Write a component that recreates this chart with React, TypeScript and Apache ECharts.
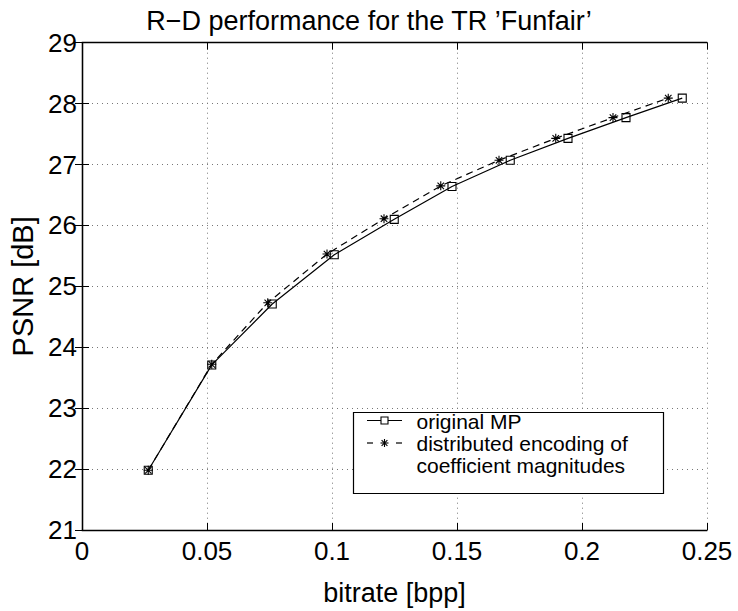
import React, { useEffect, useRef } from "react";
import * as echarts from "echarts";

const titleText = "R−D performance for the TR ’Funfair’";
const xName = "bitrate [bpp]";
const yName = "PSNR [dB]";
const seriesNames = ["original MP", "distributed encoding of", "coefficient magnitudes"];

const mpX = [0.0265, 0.0519, 0.0761, 0.1009, 0.1249, 0.148, 0.1713, 0.1944, 0.2176, 0.2401];
const mpY = [21.98, 23.71, 24.71, 25.52, 26.1, 26.64, 27.07, 27.43, 27.77, 28.09];
const distX = [0.0265, 0.0519, 0.0743, 0.098, 0.1208, 0.1435, 0.1668, 0.1895, 0.2124, 0.2345];
const distY = [21.98, 23.72, 24.73, 25.53, 26.11, 26.65, 27.07, 27.43, 27.77, 28.09];

const xMin = 0;
const xMax = 0.25;
const xStep = 0.05;
const yMin = 21;
const yMax = 29;
const yStep = 1;

const FONT = "Liberation Sans, Arial, Helvetica, sans-serif";
const STAR = "path://M0,-1L0,1M-1,0L1,0M-0.72,-0.72L0.72,0.72M-0.72,0.72L0.72,-0.72";

export default function App() {
  const ref = useRef<HTMLDivElement>(null);
  useEffect(() => {
    if (!ref.current) return;
    const chart = echarts.init(ref.current, null, { renderer: "svg" });
    const gridLine = { show: true, lineStyle: { color: "#777", width: 1, type: [1, 4] } };
    const axisLine = { show: true, lineStyle: { color: "#000", width: 1.3 } };
    const tick = { show: true, inside: true, length: 7, lineStyle: { color: "#000", width: 1 } };
    const lx = 367, rx = 402, cx = 384.5;
    const y1 = 420.5, y2 = 443, y3 = 465;
    const r = 4;
    chart.setOption({
      animation: false,
      backgroundColor: "#fff",
      title: {
        text: titleText,
        left: "center",
        top: 2,
        textStyle: { fontFamily: FONT, fontSize: 27, fontWeight: "normal", color: "#000" },
      },
      grid: { left: 82, right: 31, top: 42.7, bottom: 75.3, containLabel: false },
      xAxis: [
        {
          type: "value",
          min: xMin,
          max: xMax,
          interval: xStep,
          name: xName,
          nameLocation: "middle",
          nameGap: 49,
          nameTextStyle: { fontFamily: FONT, fontSize: 27, color: "#000" },
          axisLine,
          axisTick: tick,
          axisLabel: { margin: 8, fontFamily: FONT, fontSize: 26, color: "#000" },
          splitLine: gridLine,
        },
        {
          type: "value",
          position: "top",
          min: xMin,
          max: xMax,
          interval: xStep,
          axisLine,
          axisTick: tick,
          axisLabel: { show: false },
          splitLine: { show: false },
        },
      ],
      yAxis: [
        {
          type: "value",
          min: yMin,
          max: yMax,
          interval: yStep,
          name: yName,
          nameLocation: "middle",
          nameGap: 40,
          nameTextStyle: { fontFamily: FONT, fontSize: 29, color: "#000" },
          axisLine,
          axisTick: tick,
          axisLabel: { margin: 5, fontFamily: FONT, fontSize: 26, color: "#000" },
          splitLine: gridLine,
        },
        {
          type: "value",
          position: "right",
          min: yMin,
          max: yMax,
          interval: yStep,
          axisLine,
          axisTick: tick,
          axisLabel: { show: false },
          splitLine: { show: false },
        },
      ],
      series: [
        {
          name: seriesNames[0],
          type: "line",
          data: mpX.map((x, i) => [x, mpY[i]]),
          symbol: "rect",
          symbolSize: 8,
          lineStyle: { color: "#000", width: 1.2, type: "solid" },
          itemStyle: { color: "rgba(255,255,255,0)", borderColor: "#000", borderWidth: 1.1 },
          z: 3,
        },
        {
          name: seriesNames[1] + " " + seriesNames[2],
          type: "line",
          data: distX.map((x, i) => [x, distY[i]]),
          symbol: STAR,
          symbolSize: 9,
          lineStyle: { color: "#000", width: 1.2, type: [7, 5] },
          itemStyle: { color: "#000", borderColor: "#000", borderWidth: 1.1 },
          z: 4,
        },
      ],
      graphic: [
        {
          type: "rect",
          shape: { x: 353.5, y: 412.5, width: 310, height: 81 },
          style: { fill: "#fff", stroke: "#000", lineWidth: 1.2 },
          z: 10,
        },
        { type: "line", shape: { x1: lx, y1: y1, x2: rx, y2: y1 }, style: { stroke: "#000", lineWidth: 1.2 }, z: 11 },
        {
          type: "rect",
          shape: { x: cx - 3.5, y: y1 - 3.5, width: 7, height: 7 },
          style: { fill: "#fff", stroke: "#000", lineWidth: 1.1 },
          z: 12,
        },
        { type: "line", shape: { x1: lx, y1: y2, x2: lx + 6, y2: y2 }, style: { stroke: "#000", lineWidth: 1.2 }, z: 11 },
        { type: "line", shape: { x1: rx - 6, y1: y2, x2: rx, y2: y2 }, style: { stroke: "#000", lineWidth: 1.2 }, z: 11 },
        { type: "line", shape: { x1: cx, y1: y2 - r, x2: cx, y2: y2 + r }, style: { stroke: "#000", lineWidth: 1.1 }, z: 11 },
        { type: "line", shape: { x1: cx - r, y1: y2, x2: cx + r, y2: y2 }, style: { stroke: "#000", lineWidth: 1.1 }, z: 11 },
        { type: "line", shape: { x1: cx - 2.9, y1: y2 - 2.9, x2: cx + 2.9, y2: y2 + 2.9 }, style: { stroke: "#000", lineWidth: 1.1 }, z: 11 },
        { type: "line", shape: { x1: cx - 2.9, y1: y2 + 2.9, x2: cx + 2.9, y2: y2 - 2.9 }, style: { stroke: "#000", lineWidth: 1.1 }, z: 11 },
        {
          type: "text",
          x: 416.5,
          y: y1 + 1,
          style: { text: seriesNames[0], font: `21px ${FONT}`, fill: "#000", verticalAlign: "middle", align: "left" },
          z: 12,
        },
        {
          type: "text",
          x: 416.5,
          y: y2 + 0.5,
          style: { text: seriesNames[1], font: `21px ${FONT}`, fill: "#000", verticalAlign: "middle", align: "left" },
          z: 12,
        },
        {
          type: "text",
          x: 416.5,
          y: y3,
          style: { text: seriesNames[2], font: `21px ${FONT}`, fill: "#000", verticalAlign: "middle", align: "left" },
          z: 12,
        },
      ],
    });
    return () => chart.dispose();
  }, []);
  return (
    <div
      ref={ref}
      style={{ position: "fixed", left: 0, top: 0, width: 738, height: 611, background: "#fff" }}
    />
  );
}
